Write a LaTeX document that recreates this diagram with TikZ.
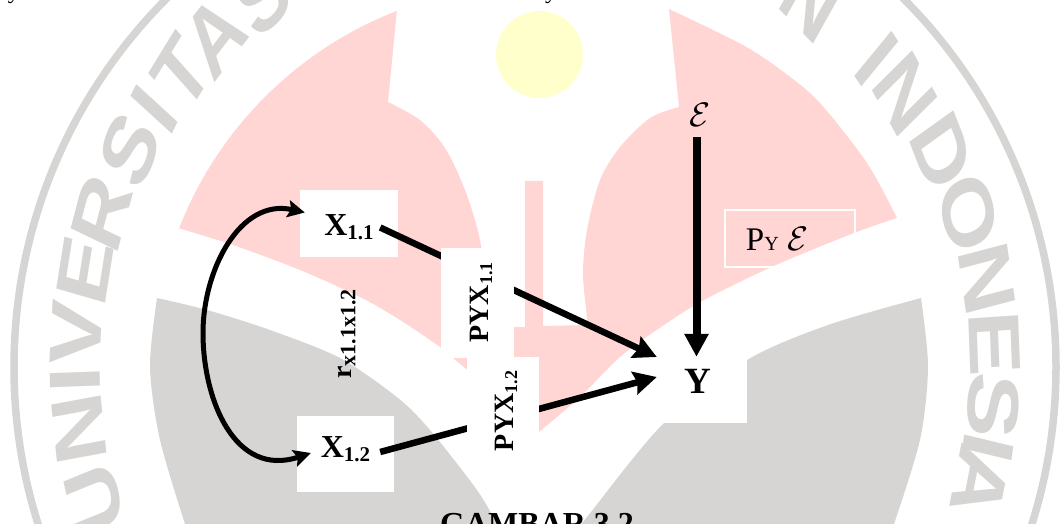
\documentclass[tikz,border=0pt]{standalone}
\usepackage{fontspec}
\setmainfont{Liberation Serif}
\setsansfont{Liberation Sans}
\usetikzlibrary{arrows.meta,calc}
\definecolor{Rose}{HTML}{FFD6D4}
\definecolor{Stone}{HTML}{D6D5D4}
\definecolor{Lemon}{HTML}{FFFFCC}
\newcommand{\bigsize}[1]{\fontsize{#1}{#1}\selectfont}
\newcommand{\subtxt}[2][21]{\raisebox{-4pt}{\bigsize{#1}#2}}
\newcommand{\epsmark}{\scalebox{3.4}{\normalsize$\mathcal{E}$}}
\tikzset{
 wmark/.style={text=Stone,font=\sffamily\bfseries\bigsize{98},xscale=.74,inner sep=0pt},
 whitebox/.style={fill=white,inner sep=0pt,font=\bfseries\bigsize{32}},
 pathbox/.style={whitebox,rotate=90,font=\bfseries\bigsize{28},minimum width=110pt},
 arr/.style={-{Stealth[length=23pt,width=23pt,inset=3pt]},line width=6.5pt},
 arrdown/.style={-{Triangle[length=23pt,width=23pt]},line width=8pt},
 curved/.style={{Stealth[length=17pt,width=17pt,inset=3pt]}-{Stealth[length=17pt,width=17pt,inset=3pt]},line width=5pt}
}
\begin{document}
\begin{tikzpicture}[x=1pt,y=-1pt]
\path[use as bounding box,clip] (0,0) rectangle (1061,524);
% watermark
\coordinate (ring) at (535,367);
\draw[Stone,line width=7.5pt] (ring) circle (521pt);
\foreach \letter/\ang in {U/196.8,N/187.8,I/181.6,V/175.8,E/167.9,R/160.4,S/151.8,I/145.9,T/140.3,A/134,S/126.3,N/53,I/42,N/36.4,D/27.9,O/19.5,N/11,E/2.9,S/-4.8,I/-10.1,A/-14.7} {
 \node[wmark,rotate=\ang-90] at ($(ring)+(\ang:460pt)$) {\letter};
}
\fill[Lemon] (539.5,54.5) circle (43.5pt);
\fill[Rose] plot[domain=158.7:111.2,samples=30] ({535+382*cos(\x)},{367-382*sin(\x)})
 -- plot[smooth] coordinates {(388,102) (420,120) (445,148) (465,190) (480,240) (487,300) (490,327)}
 -- (525,327) -- (525,181) -- (543,181) -- (543,326)
 -- plot[smooth] coordinates {(588,325) (583,275) (587,230) (600,180) (620,147) (650,118) (679,107)}
 -- plot[smooth] coordinates {(669,9) (743,45) (785,73) (820,103) (867,163) (897,218)}
 -- plot[smooth] coordinates {(897,218) (854,233) (776,265) (704,300) (661,327) (620,357) (580,397) (539,432)}
 -- plot[smooth] coordinates {(539,432) (495,393) (453,358) (440,347) (400,320) (360,297) (300,270) (233,245) (178,228)} -- cycle;
\fill[Stone] plot[smooth] coordinates {(157,298) (207,310) (270,330) (340,358) (398,398) (430,430) (477,490) (497,524)}
 -- plot[smooth] coordinates {(185,524) (160,440) (150,367) (157,298)} -- cycle;
\fill[Stone] plot[smooth] coordinates {(921,298) (828,325) (747,360) (663,424) (587,517) (580,524)}
 -- plot[smooth] coordinates {(894,524) (920,440) (928,367) (921,298)} -- cycle;
% text cut off by the page
\node[anchor=base,font=\bigsize{24},inner sep=0pt] (topa) at (14,-1) {y};
\node[anchor=base,font=\bigsize{24},inner sep=0pt] (topb) at (551,-1) {y};
% variables
\node[whitebox,minimum width=98pt,text height=46pt,text depth=21pt] (xa) at (349,223.5) {X\subtxt{1.1}};
\node[whitebox,minimum width=97pt,text height=41pt,text depth=35pt] (xb) at (345.5,454) {X\subtxt{1.2}};
\node[whitebox,font=\bfseries\bigsize{37},minimum width=98pt,text height=52pt,text depth=30pt] (yy) at (698,382) {Y};
\node[inner sep=0pt,text height=22pt,text depth=10pt] (eps) at (700,121) {\epsmark};
\node[draw=white,line width=1.3pt,inner sep=0pt,minimum width=130pt,text height=40pt,text depth=17pt] (pye) at (790,238.5)
 {\bigsize{33}P\bigsize{20}Y\bigsize{33} \epsmark\kern26pt};
% connectors
\draw[arr] ($(xa.east)+(-18,4)$) -- ($(yy.west)+(8,-25)$);
\draw[arr] ($(xb.east)+(-14,-2)$) -- ($(yy.west)+(8,-5)$);
\draw[arrdown] ($(eps.south)+(-3.5,0)$) -- ($(yy.north)+(-1.5,16)$);
\draw[curved] ($(xa.west)+(5,-11)$) .. controls (240,198) and (203,270) .. (203,333) .. controls (203,400) and (235,478) .. ($(xb.west)+(14,-1)$);
% paths
\node[pathbox,text height=47pt,text depth=26pt] (pa) at (477.5,302.5) {PYX\subtxt[18]{1.1}};
\node[pathbox,minimum width=108pt,text height=46pt,text depth=26pt] (pb) at (503,411) {PYX\subtxt[18]{1.2}};
\node[rotate=90,inner sep=0pt,font=\bfseries\bigsize{28}] (rxx) at (347,334) {r\subtxt[22]{x1.1x1.2}};
\node[anchor=base,font=\bfseries\bigsize{32},inner sep=0pt] (cap) at (537,534) {GAMBAR 3.2};
\end{tikzpicture}
\end{document}
